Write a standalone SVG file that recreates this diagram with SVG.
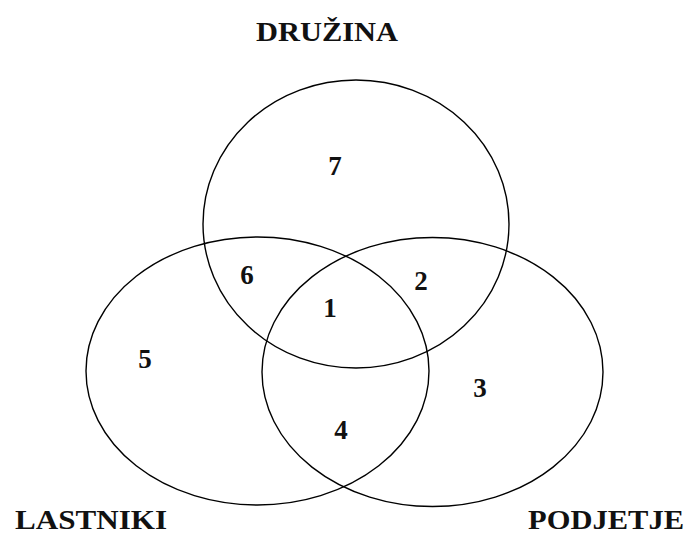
<svg xmlns="http://www.w3.org/2000/svg" width="687" height="536" viewBox="0 0 687 536">
<style>
.set{fill:none;stroke:#000;stroke-width:1.4}
.lbl{font-family:"Liberation Serif","Times New Roman",serif;font-weight:bold;font-size:27px;fill:#111}
.num{font-family:"Liberation Serif","Times New Roman",serif;font-weight:bold;font-size:27px;fill:#111;text-anchor:middle}
</style>
<rect width="687" height="536" fill="#fff"/>
<g id="druzina">
<ellipse class="set" cx="356" cy="224" rx="153" ry="144"/>
<text class="lbl" x="256" y="41" textLength="142" lengthAdjust="spacingAndGlyphs">DRUŽINA</text>
</g>
<g id="lastniki">
<ellipse class="set" cx="257.5" cy="371" rx="171.5" ry="134"/>
<text class="lbl" x="15" y="529" textLength="152" lengthAdjust="spacingAndGlyphs">LASTNIKI</text>
</g>
<g id="podjetje">
<ellipse class="set" cx="432.5" cy="372" rx="170.5" ry="134.5"/>
<text class="lbl" x="528" y="529" textLength="156" lengthAdjust="spacingAndGlyphs">PODJETJE</text>
</g>
<g id="regions">
<text class="num" x="335" y="175">7</text>
<text class="num" x="247" y="284">6</text>
<text class="num" x="421" y="290">2</text>
<text class="num" x="330" y="317">1</text>
<text class="num" x="145" y="368">5</text>
<text class="num" x="480" y="397">3</text>
<text class="num" x="341" y="439">4</text>
</g>
<g id="connectors"></g>
</svg>
